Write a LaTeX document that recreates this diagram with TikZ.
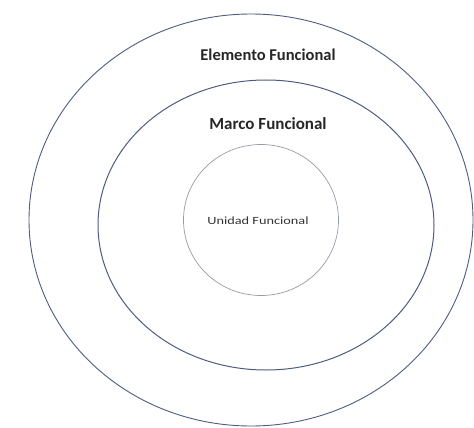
\documentclass[tikz,border=0pt]{standalone}
\usepackage{fontspec}
\setmainfont{Carlito}
\usetikzlibrary{shapes.geometric, positioning}
\definecolor{ringblue}{RGB}{78,92,130}
\definecolor{ringgray}{RGB}{150,155,170}
\tikzstyle{ring}  = [ellipse, draw=ringblue, line width=0.9pt, inner sep=0pt]
\tikzstyle{label} = [font=\bfseries\fontsize{16.5}{18}\selectfont, text=black!85]

\begin{document}
\begin{tikzpicture}[x=1pt, y=-1pt]
  \useasboundingbox (0,0) rectangle (474,428);

  % Rings
  \node (outer)  [ring, minimum width=444pt, minimum height=412pt] at (251,220) {};
  \node (middle) [ring, line width=1pt, minimum width=336pt, minimum height=290pt] at (266,225) {};
  \node (inner)  [ring, draw=ringgray, line width=0.7pt, minimum width=155pt, minimum height=151pt] at (261,220) {};

  % Labels
  \node (elem)  [label] at (268,55)  {Elemento Funcional};
  \node (marco) [label, font=\bfseries\fontsize{17}{19}\selectfont] at (268,124) {Marco Funcional};
  \node (unid)  [font=\fontsize{11}{13}\selectfont, text=black!80] at (258,221) {\scalebox{1.3}[1]{Unidad Funcional}};
\end{tikzpicture}
\end{document}
